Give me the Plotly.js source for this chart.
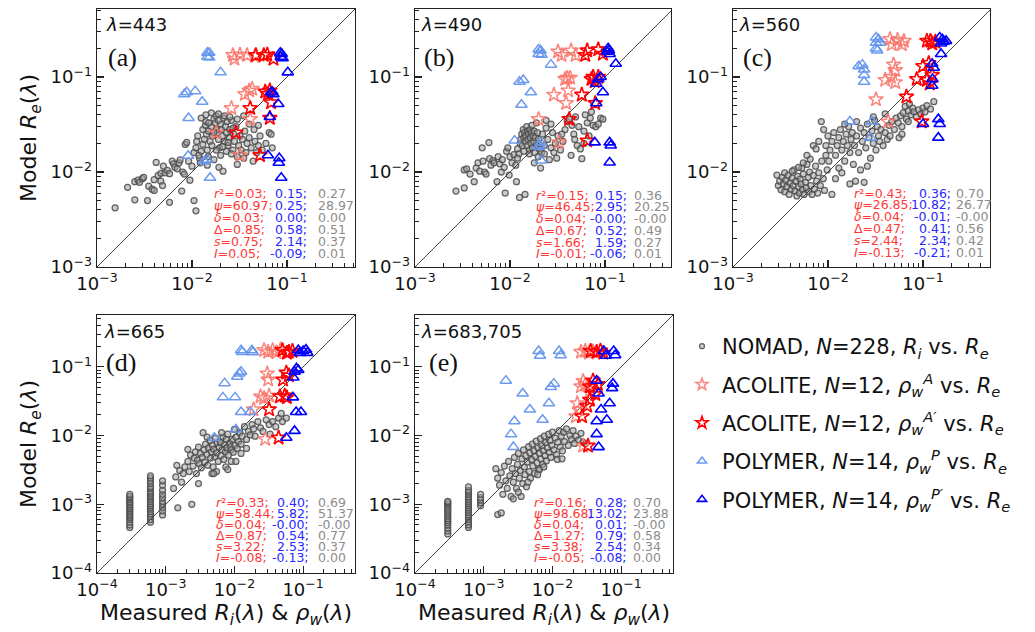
<!DOCTYPE html>
<html><head><meta charset="utf-8">
<script src="https://cdn.plot.ly/plotly-3.0.1.min.js"></script>
<style>body{margin:0;background:#fff}#chart{width:1035px;height:632px}</style>
</head><body><div id="chart"></div>
<script>
// ================= DATA =================
const wavelengths = ['443', '490', '560', '665', '683,705'];
const panelTags = ['(a)', '(b)', '(c)', '(d)', '(e)'];
const statLabels = ['<i>r</i>²', '<i>ψ</i>', '<i>δ</i>', 'Δ', '<i>s</i>', '<i>I</i>'];
const oneToOne = [1e-5, 1];

// stats: ACOLITE (red), POLYMER (blue), NOMAD (gray)
const statsAco443 = ['0.03','60.97','0.03','0.85','0.75','0.05'];
const statsPol443 = ['0.15','0.25','0.00','0.58','2.14','-0.09'];
const statsNom443 = ['0.27','28.97','0.00','0.51','0.37','0.01'];
const statsAco490 = ['0.15','46.45','0.04','0.67','1.66','-0.01'];
const statsPol490 = ['0.15','2.95','-0.00','0.52','1.59','-0.06'];
const statsNom490 = ['0.36','20.25','-0.00','0.49','0.27','0.01'];
const statsAco560 = ['0.43','26.85','0.04','0.47','2.44','-0.13'];
const statsPol560 = ['0.36','10.82','-0.01','0.41','2.34','-0.21'];
const statsNom560 = ['0.70','26.77','-0.00','0.56','0.42','0.01'];
const statsAco665 = ['0.33','58.44','0.04','0.87','3.22','-0.08'];
const statsPol665 = ['0.40','5.82','-0.00','0.54','2.53','-0.13'];
const statsNom665 = ['0.69','51.37','-0.00','0.77','0.37','0.00'];
const statsAco683 = ['0.16','98.68','0.04','1.27','3.38','-0.05'];
const statsPol683 = ['0.28','13.02','0.01','0.79','2.54','-0.08'];
const statsNom683 = ['0.70','23.88','-0.00','0.58','0.34','0.00'];

// ---- 443 ----
const nomad443 = [[0.00155,0.0042],[0.0021,0.0069],[0.0025,0.0079],[0.0025,0.0051],[0.0027,0.0082],[0.0028,0.0078],[0.0030,0.0085],[0.0031,0.0088],[0.0034,0.0050],[0.0035,0.0071],[0.0038,0.0066],[0.0040,0.0064],[0.0040,0.0083],[0.0042,0.0126],[0.0044,0.0092],[0.0047,0.0097],[0.0047,0.0080],[0.0049,0.0072],[0.0050,0.0115],[0.0052,0.0098],[0.0055,0.0104],[0.0058,0.0048],[0.0058,0.0096],[0.0062,0.0130],[0.0064,0.0122],[0.0066,0.0112],[0.0070,0.0108],[0.0073,0.0125],[0.0075,0.0134],[0.0078,0.0063],[0.0080,0.0100],[0.0083,0.0095],[0.0085,0.0195],[0.0088,0.0205],[0.0092,0.0130],[0.0095,0.0082],[0.0100,0.0115],[0.0105,0.0050],[0.0110,0.0039],
[0.0105,0.016],[0.011,0.018],[0.0112,0.021],[0.0115,0.024],[0.012,0.014],[0.0122,0.0125],[0.0125,0.037],[0.013,0.028],[0.0135,0.022],[0.0138,0.031],[0.014,0.034],[0.0142,0.025],[0.0145,0.017],[0.0148,0.0145],[0.015,0.027],[0.0155,0.021],[0.016,0.030],[0.0162,0.019],[0.0165,0.024],[0.017,0.036],[0.0175,0.033],[0.018,0.039],[0.0182,0.028],[0.0185,0.026],[0.019,0.022],[0.0192,0.0112],[0.0195,0.018],[0.02,0.032],[0.0205,0.028],[0.021,0.024],[0.0212,0.0102],[0.0215,0.037],[0.022,0.021],[0.0225,0.030],[0.023,0.026],[0.0235,0.034],[0.024,0.019],[0.0245,0.023],[0.025,0.028],[0.026,0.035],[0.027,0.017],[0.0275,0.025],[0.028,0.021],[0.029,0.030],[0.030,0.0145],[0.031,0.019],[0.032,0.024],[0.033,0.017],[0.034,0.022],[0.036,0.027],[0.037,0.016],[0.038,0.020],[0.040,0.023],[0.042,0.018],[0.044,0.013],[0.046,0.021],[0.048,0.016],[0.05,0.019],[0.052,0.024],[0.055,0.017],[0.06,0.020],[0.065,0.026],[0.068,0.025],[0.070,0.018],[0.014,0.040],[0.016,0.042],[0.019,0.041],[0.022,0.039],[0.025,0.038],[0.03,0.036],[0.035,0.039],[0.04,0.032],[0.045,0.028],[0.05,0.031],[0.013,0.0195],[0.0125,0.0165],[0.0118,0.015],[0.0145,0.0118],[0.017,0.0135],[0.02,0.015],[0.023,0.0165],[0.026,0.0155],[0.03,0.012],[0.035,0.014],[0.018,0.017],[0.021,0.0185],[0.024,0.0205],[0.027,0.029],[0.015,0.033],[0.019,0.035],[0.017,0.026]];
const acoA443 = [[0.027,0.17],[0.032,0.172],[0.038,0.17],[0.028,0.155],[0.046,0.165],[0.036,0.066],[0.040,0.072],[0.043,0.075],[0.026,0.047],[0.041,0.036],[0.018,0.026],[0.032,0.015]];
const acoA2_443 = [[0.047,0.17],[0.062,0.172],[0.072,0.155],[0.057,0.17],[0.059,0.07],[0.066,0.072],[0.063,0.066],[0.068,0.054],[0.041,0.047],[0.066,0.037],[0.029,0.026],[0.052,0.015]];
const polP443 = [[0.0145,0.18],[0.0152,0.18],[0.0145,0.163],[0.0152,0.16],[0.020,0.112],[0.0083,0.066],[0.0088,0.069],[0.0108,0.071],[0.0128,0.055],[0.0092,0.037],[0.0091,0.0148],[0.0135,0.013],[0.0145,0.0135],[0.0155,0.0087]];
const polP2_443 = [[0.085,0.18],[0.088,0.175],[0.086,0.163],[0.09,0.158],[0.102,0.112],[0.068,0.069],[0.072,0.066],[0.081,0.052],[0.066,0.038],[0.063,0.015],[0.083,0.014],[0.082,0.0125],[0.087,0.0087],[0.07,0.07]];

// ---- 490 ----
const nomad490 = [[0.0027,0.0063],[0.0033,0.0068],[0.0033,0.0105],[0.0035,0.0108],[0.0038,0.0095],[0.0042,0.0079],[0.0044,0.011],[0.0046,0.0125],[0.0048,0.0102],[0.0051,0.018],[0.0052,0.013],[0.0054,0.010],[0.0056,0.0095],[0.006,0.0204],[0.0061,0.0138],[0.0063,0.0118],[0.0066,0.0132],[0.0068,0.0125],[0.0073,0.0079],[0.0075,0.0145],[0.0078,0.0122],[0.0081,0.010],[0.0083,0.0135],[0.0087,0.0112],[0.0089,0.006],[0.0092,0.0165],[0.0095,0.018],[0.0098,0.0093],[0.010,0.0145],[0.0105,0.0125],[0.011,0.0152],[0.0115,0.0118],[0.0117,0.0079],[0.012,0.0175],[0.0124,0.0155],[0.0126,0.0054],[0.0128,0.020],[0.013,0.022],[0.0133,0.025],[0.0135,0.019],[0.0138,0.028],[0.014,0.023],[0.0142,0.026],[0.0144,0.0058],[0.0145,0.021],[0.0147,0.024],[0.015,0.030],[0.0152,0.019],[0.0153,0.027],[0.0155,0.022],[0.0157,0.025],[0.016,0.017],[0.016,0.0155],[0.0162,0.028],[0.0164,0.023],[0.0166,0.020],[0.0168,0.026],[0.017,0.031],[0.0172,0.018],[0.0175,0.024],[0.0178,0.021],[0.018,0.027],[0.0182,0.016],[0.0185,0.023],[0.019,0.019],[0.0195,0.026],[0.0198,0.0145],[0.02,0.022],[0.0205,0.0175],[0.021,0.0110],[0.0215,0.016],[0.022,0.025],[0.023,0.019],[0.024,0.029],[0.025,0.022],[0.026,0.0135],[0.027,0.018],[0.028,0.026],[0.029,0.016],[0.030,0.020],[0.031,0.014],[0.032,0.024],[0.034,0.017],[0.036,0.021],[0.038,0.028],[0.040,0.034],[0.042,0.036],[0.044,0.015],[0.045,0.031],[0.047,0.025],[0.049,0.038],[0.051,0.019],[0.053,0.03],[0.055,0.0175],[0.057,0.0138],[0.06,0.027],[0.062,0.040],[0.065,0.033],[0.068,0.024],[0.07,0.037],[0.072,0.043],[0.075,0.031],[0.08,0.030],[0.085,0.032],[0.09,0.037],[0.095,0.036],[0.06,0.02],[0.048,0.022],[0.035,0.025],[0.027,0.032],[0.023,0.0155],[0.018,0.0125],[0.014,0.0165],[0.012,0.014],[0.019,0.033],[0.024,0.035]];
const acoA490 = [[0.032,0.185],[0.044,0.19],[0.049,0.17],[0.035,0.17],[0.038,0.095],[0.043,0.098],[0.041,0.072],[0.029,0.065],[0.039,0.053],[0.020,0.036],[0.033,0.0205],[0.040,0.098]];
const acoA2_490 = [[0.065,0.19],[0.085,0.195],[0.095,0.175],[0.062,0.17],[0.072,0.095],[0.085,0.1],[0.078,0.09],[0.057,0.065],[0.079,0.053],[0.042,0.036],[0.065,0.0214],[0.075,0.1]];
const polP490 = [[0.020,0.195],[0.021,0.19],[0.020,0.175],[0.0215,0.172],[0.027,0.135],[0.0126,0.089],[0.0138,0.093],[0.0166,0.069],[0.0132,0.051],[0.0112,0.0214],[0.0204,0.019],[0.021,0.0205],[0.0213,0.0132],[0.02,0.0185]];
const polP2_490 = [[0.108,0.2],[0.11,0.19],[0.112,0.175],[0.13,0.138],[0.081,0.085],[0.085,0.095],[0.095,0.069],[0.081,0.053],[0.078,0.0205],[0.112,0.0205],[0.115,0.019],[0.112,0.0126],[0.105,0.185],[0.09,0.1]];

// ---- 560 ----
const nomad560 = [[0.0029,0.0093],[0.0030,0.0072],[0.0031,0.0080],[0.0032,0.0065],[0.0033,0.0088],[0.0034,0.0075],[0.0035,0.0098],[0.0035,0.0062],[0.0036,0.0082],[0.0037,0.0070],[0.0038,0.0092],[0.0039,0.0058],[0.0040,0.0077],[0.0041,0.0066],[0.0042,0.0086],[0.0043,0.0072],[0.0044,0.0105],[0.0045,0.0063],[0.0046,0.0080],[0.0047,0.0056],[0.0048,0.0090],[0.0049,0.0070],[0.0050,0.0060],[0.0051,0.0084],[0.0052,0.0075],[0.0053,0.0110],[0.0054,0.0065],[0.0055,0.0095],[0.0056,0.0058],[0.0058,0.0078],[0.0059,0.0068],[0.0060,0.0120],[0.0062,0.0088],[0.0063,0.0062],[0.0064,0.0100],[0.0066,0.0072],[0.0068,0.0058],[0.0070,0.0092],[0.0072,0.0066],[0.0074,0.0115],[0.0076,0.0080],[0.0078,0.0060],[0.0080,0.0098],[0.0083,0.0072],[0.0086,0.0130],[0.0089,0.0085],[0.0092,0.0064],[0.0095,0.0150],[0.0098,0.0105],
[0.0042,0.0102],[0.0049,0.0112],[0.0055,0.0125],[0.0065,0.0137],[0.007,0.019],[0.0075,0.0175],[0.008,0.021],[0.006,0.015],
[0.0085,0.034],[0.0090,0.028],[0.0095,0.019],[0.0100,0.024],[0.0102,0.013],[0.0105,0.017],[0.011,0.0058],[0.011,0.021],[0.0115,0.026],[0.012,0.015],[0.0125,0.019],[0.013,0.023],[0.013,0.011],[0.0135,0.028],[0.014,0.017],[0.0145,0.021],[0.015,0.013],[0.0155,0.025],[0.016,0.019],[0.0165,0.030],[0.017,0.0075],[0.017,0.016],[0.0175,0.022],[0.018,0.026],[0.0185,0.012],[0.019,0.019],[0.0195,0.0080],[0.020,0.024],[0.021,0.016],[0.022,0.029],[0.022,0.0105],[0.023,0.021],[0.024,0.0078],[0.024,0.026],[0.025,0.018],[0.026,0.032],[0.027,0.023],[0.028,0.014],[0.029,0.027],[0.030,0.020],[0.031,0.035],[0.032,0.017],[0.033,0.030],[0.034,0.024],[0.035,0.021],[0.036,0.028],[0.038,0.019],[0.040,0.026],[0.042,0.022],[0.044,0.031],[0.045,0.024],
[0.047,0.034],[0.05,0.028],[0.052,0.037],[0.055,0.033],[0.058,0.039],[0.06,0.030],[0.062,0.042],[0.065,0.049],[0.067,0.036],[0.07,0.044],[0.072,0.052],[0.075,0.040],[0.078,0.047],[0.08,0.043],[0.085,0.038],[0.09,0.045],[0.095,0.041],[0.1,0.047],[0.105,0.043],[0.11,0.05],[0.12,0.046],[0.13,0.055],[0.04,0.041],[0.056,0.023],[0.07,0.034],[0.06,0.025],[0.03,0.038],[0.02,0.034],[0.015,0.032],[0.012,0.0085],[0.014,0.0098],[0.026,0.0115]];
const acoA560 = [[0.045,0.25],[0.054,0.245],[0.063,0.24],[0.047,0.22],[0.06,0.22],[0.049,0.135],[0.051,0.118],[0.04,0.093],[0.046,0.1],[0.051,0.088],[0.032,0.058],[0.043,0.034]];
const acoA2_560 = [[0.11,0.24],[0.12,0.24],[0.135,0.235],[0.125,0.225],[0.1,0.13],[0.115,0.14],[0.086,0.095],[0.11,0.093],[0.118,0.085],[0.067,0.062],[0.097,0.034],[0.125,0.105]];
const polP560 = [[0.032,0.26],[0.034,0.25],[0.032,0.23],[0.035,0.23],[0.032,0.2],[0.033,0.19],[0.021,0.13],[0.023,0.135],[0.024,0.12],[0.024,0.105],[0.024,0.089],[0.017,0.034],[0.029,0.034],[0.028,0.023]];
const polP2_560 = [[0.15,0.26],[0.16,0.25],[0.165,0.235],[0.155,0.225],[0.155,0.175],[0.125,0.138],[0.13,0.125],[0.126,0.095],[0.125,0.081],[0.10,0.032],[0.145,0.036],[0.15,0.032],[0.145,0.023],[0.175,0.24]];

// ---- 665 ----
const nomad665 = [[0.0003,0.00046],[0.0003,0.0005],[0.0003,0.00055],[0.0003,0.0006],[0.0003,0.00064],[0.0003,0.00068],[0.0003,0.00072],[0.0003,0.00077],[0.0003,0.00082],[0.0003,0.00087],[0.0003,0.00092],[0.0003,0.00098],[0.0003,0.00104],[0.0003,0.0011],[0.0003,0.00118],[0.0003,0.00125],[0.0003,0.0013],[0.0003,0.0014],
[0.0006,0.00055],[0.0006,0.0006],[0.0006,0.00066],[0.0006,0.00072],[0.0006,0.00078],[0.0006,0.00085],[0.0006,0.0009],[0.0006,0.00096],[0.0006,0.00102],[0.0006,0.0011],[0.0006,0.00118],[0.0006,0.00127],[0.0006,0.00135],[0.0006,0.00145],[0.0006,0.00155],[0.0006,0.0017],[0.0006,0.0018],[0.0006,0.002],[0.0006,0.0022],[0.0006,0.0024],[0.0006,0.0026],
[0.0009,0.0007],[0.0009,0.0008],[0.0009,0.0009],[0.0009,0.001],[0.0009,0.0011],[0.0009,0.00125],[0.0009,0.0014],[0.0009,0.0016],[0.0009,0.0019],[0.0009,0.0022],
[0.00145,0.0037],[0.0015,0.00089],[0.0013,0.0017],[0.0014,0.0025],[0.0016,0.0031],[0.0017,0.0021],[0.0018,0.0028],[0.0019,0.0035],[0.0021,0.0063],[0.0021,0.0042],[0.0022,0.003],[0.0023,0.0052],[0.0024,0.001],[0.0025,0.0036],[0.0026,0.0047],[0.0027,0.0058],[0.0028,0.0028],[0.0029,0.0044],[0.003,0.0068],[0.0031,0.0039],[0.0032,0.0055],[0.0033,0.0034],[0.0034,0.0048],[0.0035,0.011],[0.0036,0.0062],[0.0037,0.0041],[0.0038,0.0075],[0.004,0.0053],[0.0041,0.0037],[0.0042,0.0066],[0.0044,0.0085],[0.0045,0.0047],[0.0046,0.0058],[0.0048,0.0072],[0.0049,0.0035],[0.005,0.0063],[0.0052,0.0049],[0.0053,0.0092],[0.0055,0.0056],[0.0056,0.0078],[0.0058,0.0042],[0.006,0.0068],[0.0062,0.0082],[0.0063,0.0079],[0.0064,0.0051],[0.0066,0.0062],[0.0068,0.0095],[0.007,0.0045],[0.0072,0.0074],[0.0074,0.0058],[0.0076,0.0088],[0.0078,0.0066],[0.008,0.0105],[0.0082,0.0052],[0.0085,0.0078],[0.0088,0.0069],[0.009,0.0062],[0.0093,0.0088],[0.0096,0.0057],[0.01,0.0123],[0.0102,0.0072],[0.0105,0.0095],[0.011,0.0065],[0.0115,0.0082],[0.012,0.011],[0.0125,0.0075],[0.013,0.0098],[0.014,0.0135],[0.015,0.0088],[0.016,0.0115],[0.017,0.0102],[0.018,0.0145],[0.019,0.0125],[0.02,0.0098],[0.022,0.016],[0.024,0.013],[0.026,0.0115],[0.029,0.017],[0.032,0.0145],[0.033,0.0105],[0.036,0.016],[0.04,0.0135],[0.044,0.018],[0.05,0.016],[0.057,0.018],[0.048,0.021],[0.0075,0.0035],[0.009,0.0042],[0.0055,0.003],[0.0047,0.0028],[0.0125,0.0055],[0.015,0.0065],[0.003,0.002],[0.005,0.0028],[0.008,0.0032],[0.0065,0.011],[0.004,0.0095],[0.0105,0.0042]];
const acoA665 = [[0.027,0.175],[0.031,0.165],[0.036,0.175],[0.041,0.162],[0.047,0.18],[0.03,0.08],[0.031,0.065],[0.024,0.037],[0.027,0.035],[0.032,0.038],[0.019,0.024],[0.028,0.0089]];
const acoA2_665 = [[0.05,0.175],[0.062,0.165],[0.07,0.17],[0.058,0.16],[0.057,0.082],[0.051,0.065],[0.062,0.075],[0.046,0.037],[0.054,0.038],[0.058,0.036],[0.032,0.024],[0.044,0.0093]];
const polP665 = [[0.0125,0.175],[0.013,0.165],[0.018,0.175],[0.0185,0.163],[0.0118,0.08],[0.0125,0.085],[0.011,0.072],[0.0072,0.058],[0.0068,0.036],[0.0102,0.036],[0.0125,0.022],[0.017,0.022],[0.0105,0.0123],[0.0051,0.0093]];
const polP2_665 = [[0.085,0.175],[0.11,0.178],[0.09,0.16],[0.115,0.16],[0.1,0.17],[0.08,0.095],[0.075,0.085],[0.072,0.07],[0.071,0.036],[0.079,0.022],[0.093,0.022],[0.075,0.0117],[0.057,0.0093],[0.085,0.09]];

// ---- 683,705 ----
const nomad683 = [[0.0003,0.00037],[0.0003,0.00041],[0.0003,0.00045],[0.0003,0.0005],[0.0003,0.00054],[0.0003,0.00058],[0.0003,0.00062],[0.0003,0.00067],[0.0003,0.00072],[0.0003,0.00077],[0.0003,0.00082],[0.0003,0.00088],[0.0003,0.00094],[0.0003,0.001],[0.0003,0.00106],[0.0003,0.0011],
[0.0006,0.00046],[0.0006,0.0005],[0.0006,0.00055],[0.0006,0.0006],[0.0006,0.00065],[0.0006,0.0007],[0.0006,0.00076],[0.0006,0.00082],[0.0006,0.00088],[0.0006,0.00095],[0.0006,0.00102],[0.0006,0.0011],[0.0006,0.00118],[0.0006,0.00128],[0.0006,0.0014],[0.0006,0.0015],[0.0006,0.0016],[0.0006,0.0018],
[0.0009,0.00095],[0.0009,0.00105],[0.0009,0.00115],[0.0009,0.00125],[0.0009,0.0014],
[0.0015,0.0033],[0.0016,0.0024],[0.0016,0.00071],[0.0017,0.0019],[0.0018,0.00075],[0.0018,0.0029],[0.0019,0.0014],[0.002,0.0036],[0.0021,0.0022],[0.0022,0.0017],[0.0023,0.0042],[0.0024,0.0026],[0.0025,0.0013],[0.0026,0.0033],[0.0027,0.0012],[0.0027,0.0021],[0.0028,0.0048],[0.0029,0.0028],[0.003,0.0017],[0.0031,0.0038],[0.0032,0.0055],[0.0033,0.0024],[0.0034,0.0031],[0.0035,0.0013],[0.0036,0.0046],[0.0037,0.0020],[0.0038,0.0062],[0.0039,0.0035],[0.004,0.0027],[0.0041,0.0051],[0.0042,0.0018],[0.0043,0.0041],[0.0045,0.0069],[0.0046,0.0030],[0.0047,0.0056],[0.0048,0.0024],[0.005,0.0045],[0.0051,0.0075],[0.0052,0.0036],[0.0054,0.0060],[0.0055,0.0028],[0.0056,0.0050],[0.0058,0.0083],[0.006,0.0040],[0.0062,0.0066],[0.0063,0.0032],[0.0065,0.0055],[0.0067,0.0090],[0.0068,0.0046],[0.007,0.0071],[0.0072,0.0038],[0.0074,0.0060],[0.0076,0.0098],[0.0078,0.0051],[0.008,0.0079],[0.0082,0.0043],[0.0085,0.0066],[0.0088,0.0105],[0.009,0.0057],[0.0092,0.0085],[0.0095,0.0048],[0.0098,0.0072],[0.01,0.0112],[0.0105,0.0062],[0.011,0.0092],[0.0115,0.0053],[0.012,0.0080],[0.0125,0.0118],[0.013,0.0068],[0.0135,0.0098],[0.014,0.0060],[0.0145,0.0112],[0.015,0.0082],[0.016,0.0125],[0.017,0.0072],[0.018,0.0100],[0.019,0.0088],[0.02,0.0118],[0.021,0.0077],[0.022,0.0098],[0.024,0.0086],[0.026,0.0108],[0.028,0.0080],[0.03,0.0076],[0.0032,0.0015],[0.0044,0.0021],[0.0065,0.0032],[0.0075,0.0035],[0.0118,0.0045],[0.0138,0.0046],[0.0061,0.0027]];
const acoA683 = [[0.026,0.165],[0.03,0.17],[0.034,0.16],[0.039,0.168],[0.028,0.062],[0.026,0.052],[0.03,0.055],[0.023,0.0295],[0.025,0.024],[0.022,0.019],[0.028,0.0071],[0.035,0.045]];
const acoA2_683 = [[0.036,0.17],[0.044,0.165],[0.055,0.16],[0.05,0.172],[0.039,0.063],[0.046,0.056],[0.035,0.052],[0.035,0.033],[0.032,0.027],[0.027,0.019],[0.033,0.0071],[0.042,0.04]];
const polP683 = [[0.0063,0.17],[0.0066,0.145],[0.0125,0.17],[0.0132,0.148],[0.0021,0.063],[0.0037,0.041],[0.0047,0.024],[0.0028,0.0162],[0.0025,0.0105],[0.0027,0.0068],[0.0095,0.051],[0.0105,0.057],[0.0089,0.0295],[0.0072,0.017]];
const polP2_683 = [[0.056,0.17],[0.078,0.17],[0.06,0.145],[0.082,0.148],[0.044,0.063],[0.076,0.057],[0.074,0.049],[0.047,0.041],[0.068,0.0295],[0.051,0.024],[0.062,0.017],[0.044,0.0162],[0.044,0.0105],[0.047,0.0068]];

const seriesNames = [
  'NOMAD, <i>N</i>=228, <i>R<sub>i</sub></i> vs. <i>R<sub>e</sub></i>',
  'ACOLITE, <i>N</i>=12, <i>ρ<sub>w</sub><sup>A</sup></i> vs. <i>R<sub>e</sub></i>',
  'ACOLITE, <i>N</i>=12, <i>ρ<sub>w</sub><sup>A′</sup></i> vs. <i>R<sub>e</sub></i>',
  'POLYMER, <i>N</i>=14, <i>ρ<sub>w</sub><sup>P</sup></i> vs. <i>R<sub>e</sub></i>',
  'POLYMER, <i>N</i>=14, <i>ρ<sub>w</sub><sup>P′</sup></i> vs. <i>R<sub>e</sub></i>'
];

const panelData = [
  {nomad:nomad443, a:acoA443, a2:acoA2_443, p:polP443, p2:polP2_443, sA:statsAco443, sP:statsPol443, sN:statsNom443},
  {nomad:nomad490, a:acoA490, a2:acoA2_490, p:polP490, p2:polP2_490, sA:statsAco490, sP:statsPol490, sN:statsNom490},
  {nomad:nomad560, a:acoA560, a2:acoA2_560, p:polP560, p2:polP2_560, sA:statsAco560, sP:statsPol560, sN:statsNom560},
  {nomad:nomad665, a:acoA665, a2:acoA2_665, p:polP665, p2:polP2_665, sA:statsAco665, sP:statsPol665, sN:statsNom665},
  {nomad:nomad683, a:acoA683, a2:acoA2_683, p:polP683, p2:polP2_683, sA:statsAco683, sP:statsPol683, sN:statsNom683}
];

// ================= LAYOUT CONFIG =================
const W = 1035, H = 632;
const panelCfg = [
  {px:[97,355], py:[9,267], lo:-3, hi:-0.284, red:213, blue:308, gray:317, line0:193, dl:12.2, lamX:104, tagX:106},
  {px:[415,671], py:[9,267], lo:-3, hi:-0.284, red:535, blue:628, gray:633, line0:195, dl:11.8, lamX:419, tagX:422},
  {px:[733,990], py:[9,267], lo:-3, hi:-0.284, red:853, blue:952, gray:955, line0:193, dl:11.8, lamX:737, tagX:741},
  {px:[97,355], py:[315,573], lo:-4, hi:-0.245, red:215, blue:310, gray:317, line0:502, dl:11.1, lamX:102, tagX:104},
  {px:[415,673], py:[315,573], lo:-4, hi:-0.245, red:533, blue:628, gray:632, line0:502, dl:11.1, lamX:419, tagX:427}
];
const FONT = 'DejaVu Sans';
const styles = [
  {symbol:'circle', size:6, color:'rgba(160,160,160,0.55)', line:{color:'rgba(75,75,75,0.85)', width:1.25}},
  {symbol:'star-open', size:11, color:'rgba(250,120,110,0.9)', line:{width:1.5}},
  {symbol:'star-open', size:11, color:'rgb(255,0,0)', line:{width:1.6}},
  {symbol:'triangle-up-open', size:10, color:'rgba(100,149,237,0.95)', line:{width:1.5}},
  {symbol:'triangle-up-open', size:10, color:'rgb(0,0,255)', line:{width:1.6}}
];
const legendSizes = [5, 9, 9, 8, 8];
const cRed = 'rgb(255,55,55)', cBlue = 'rgb(40,40,255)', cGray = 'rgb(140,140,140)';

function sup(n){ return '10<sup>−' + n + '</sup>'; }
const majorAll = [1e-4, 1e-3, 1e-2, 1e-1];
const minorAll = [];
for (let d = -5; d <= 0; d++) for (let k = 2; k <= 9; k++) minorAll.push(k * Math.pow(10, d));

const traces = [];
const layout = {
  width: W, height: H, margin: {l:0, r:0, t:0, b:0},
  paper_bgcolor: '#fff', plot_bgcolor: '#fff',
  showlegend: true,
  legend: {x: 682/W, y: 1 - 326/H, xanchor: 'left', yanchor: 'top',
           font: {family: FONT, size: 21, color: '#111'}, bgcolor: 'rgba(0,0,0,0)',
           traceorder: 'grouped', tracegroupgap: 8, itemwidth: 30},
  annotations: []
};

panelCfg.forEach((c, i) => {
  const n = i === 0 ? '' : String(i + 1);
  const dec = (c.py[1] - c.py[0]) / (c.hi - c.lo);
  const xhi = c.lo + (c.px[1] - c.px[0]) / dec;
  const majors = majorAll.filter(v => Math.log10(v) >= c.lo - 1e-6);
  const minors = minorAll.filter(v => Math.log10(v) > c.lo && Math.log10(v) < c.hi);
  const axBase = {
    type: 'log', showline: true, linecolor: '#222', linewidth: 1.3, mirror: true,
    ticks: 'inside', ticklen: 7, tickwidth: 1.1, tickcolor: '#222',
    showgrid: false, zeroline: false,
    tickmode: 'array', tickvals: majors, ticktext: majors.map(v => sup(-Math.round(Math.log10(v)))),
    tickfont: {family: FONT, size: 18, color: '#111'},
    minor: {tickmode: 'array', tickvals: minors, ticks: 'inside', ticklen: 4, tickwidth: 1, tickcolor: '#222', showgrid: false}
  };
  layout['xaxis' + n] = Object.assign({}, axBase, {domain: [c.px[0]/W, c.px[1]/W], range: [c.lo, xhi], anchor: 'y' + n});
  layout['yaxis' + n] = Object.assign({}, axBase, {domain: [1 - c.py[1]/H, 1 - c.py[0]/H], range: [c.lo, c.hi], anchor: 'x' + n});

  const d = panelData[i];
  const xa = 'x' + n, ya = 'y' + n;
  const series = [d.nomad, d.a, d.a2, d.p, d.p2];
  traces.push({type:'scatter', mode:'markers', x: d.nomad.map(p=>p[0]), y: d.nomad.map(p=>p[1]), xaxis: xa, yaxis: ya,
               marker: styles[0], showlegend: false, hoverinfo: 'skip'});
  traces.push({type:'scatter', mode:'lines', x: oneToOne, y: oneToOne, xaxis: xa, yaxis: ya,
               line: {color: '#444', width: 1}, showlegend: false, hoverinfo: 'skip'});
  for (let s = 1; s < 5; s++) {
    traces.push({type:'scatter', mode:'markers', x: series[s].map(p=>p[0]), y: series[s].map(p=>p[1]), xaxis: xa, yaxis: ya,
                 marker: styles[s], showlegend: false, hoverinfo: 'skip'});
  }

  layout.annotations.push({xref:'paper', yref:'paper', x: c.lamX/W, y: 1 - (c.py[0] + 16)/H, xanchor:'left', yanchor:'middle',
    text: '<i>λ</i>=' + wavelengths[i], showarrow:false, font:{family: FONT, size: 18, color:'#111'}});
  layout.annotations.push({xref:'paper', yref:'paper', x: c.tagX/W, y: 1 - (c.py[0] + 48)/H, xanchor:'left', yanchor:'middle',
    text: panelTags[i], showarrow:false, font:{family: 'Liberation Serif', size: 26, color:'#111'}});

  for (let j = 0; j < 6; j++) {
    const yy = 1 - (c.line0 + j * c.dl)/H;
    layout.annotations.push({xref:'paper', yref:'paper', x: c.red/W, y: yy, xanchor:'left', yanchor:'middle', showarrow:false,
      text: statLabels[j] + '=' + d.sA[j] + ';', font:{family: FONT, size: 12.5, color: cRed}, borderpad: 0});
    layout.annotations.push({xref:'paper', yref:'paper', x: c.blue/W, y: yy, xanchor:'right', yanchor:'middle', showarrow:false,
      text: d.sP[j] + ';', font:{family: FONT, size: 12.5, color: cBlue}, borderpad: 0});
    layout.annotations.push({xref:'paper', yref:'paper', x: c.gray/W, y: yy, xanchor:'left', yanchor:'middle', showarrow:false,
      text: d.sN[j], font:{family: FONT, size: 12.5, color: cGray}, borderpad: 0});
  }
});

// legend keys: traces without any plotted point, only shown in the legend
seriesNames.forEach((nm, s) => {
  const m = Object.assign({}, styles[s], {size: legendSizes[s]});
  traces.push({type:'scatter', mode:'markers', x: [null], y: [null], xaxis: 'x', yaxis: 'y', marker: m,
               name: nm, legendgroup: 'g' + s, showlegend: true, hoverinfo: 'skip'});
});

const yTitle = 'Model <i>R<sub>e</sub></i>(<i>λ</i>)';
const xTitle = 'Measured <i>R<sub>i</sub></i>(<i>λ</i>) &amp; <i>ρ<sub>w</sub></i>(<i>λ</i>)';
[138, 444].forEach(yc => layout.annotations.push({xref:'paper', yref:'paper', x: 30/W, y: 1 - yc/H, textangle: -90,
  xanchor:'center', yanchor:'middle', showarrow:false, text: yTitle, font:{family: FONT, size: 22, color:'#111'}}));
[226, 544].forEach(xc => layout.annotations.push({xref:'paper', yref:'paper', x: xc/W, y: 1 - 614/H,
  xanchor:'center', yanchor:'middle', showarrow:false, text: xTitle, font:{family: FONT, size: 22, color:'#111'}}));

Plotly.newPlot('chart', traces, layout, {staticPlot: true, displayModeBar: false});
</script></body></html>
